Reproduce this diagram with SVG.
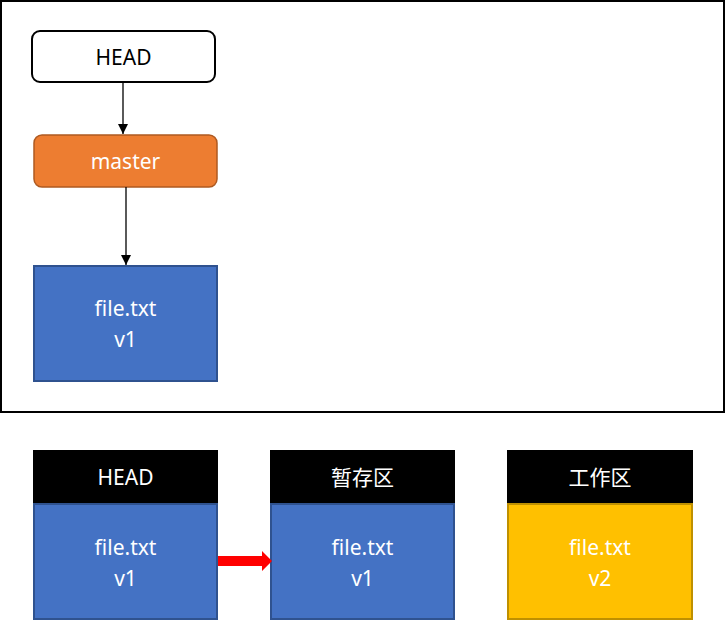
<svg xmlns="http://www.w3.org/2000/svg" width="726" height="620" viewBox="0 0 726 620">
<defs>
<style>
text{font-family:"Noto Sans","Noto Sans CJK SC",sans-serif;font-size:21px;text-anchor:middle;dominant-baseline:central}
.w{fill:#fff}
.k{fill:#000}
.blue{fill:#4472C4;stroke:#2F528F;stroke-width:2}
.yel{fill:#FFC000;stroke:#BF9000;stroke-width:2}
.hdr{fill:#000}
.conn{stroke:#000;stroke-width:1.3;fill:none}
</style>
<marker id="ah" viewBox="0 0 10 10" refX="10" refY="5" markerWidth="10" markerHeight="10" markerUnits="userSpaceOnUse" orient="auto">
<path d="M0,0 L10,5 L0,10 Z" fill="#000"/>
</marker>
</defs>
<rect x="1" y="1" width="723" height="411" fill="#fff" stroke="#000" stroke-width="2"/>
<g id="head-ref">
<rect x="32" y="31" width="183" height="51" rx="8" fill="#fff" stroke="#000" stroke-width="2"/>
<text x="123.5" y="57" class="k">HEAD</text>
</g>
<g id="master">
<rect x="34" y="135" width="183" height="52" rx="8" fill="#ED7D31" stroke="#AE5A21" stroke-width="1.5"/>
<text x="125.5" y="161" class="w">master</text>
</g>
<g id="commit">
<rect x="34" y="266" width="183" height="115" class="blue"/>
<text x="125.5" y="308" class="w">file.txt</text>
<text x="125.5" y="339" class="w">v1</text>
</g>
<g id="head-area">
<rect x="33" y="450" width="185" height="53" class="hdr"/>
<text x="125.5" y="477" class="w">HEAD</text>
<rect x="34" y="504" width="183" height="115" class="blue"/>
<text x="125.5" y="547" class="w">file.txt</text>
<text x="125.5" y="578" class="w">v1</text>
</g>
<g id="stage">
<rect x="270" y="450" width="185" height="53" class="hdr"/>
<text x="362.5" y="477" class="w">暂存区</text>
<rect x="271" y="504" width="183" height="115" class="blue"/>
<text x="362.5" y="547" class="w">file.txt</text>
<text x="362.5" y="578" class="w">v1</text>
</g>
<g id="work">
<rect x="507" y="450" width="186" height="53" class="hdr"/>
<text x="600" y="477" class="w">工作区</text>
<rect x="508" y="504" width="184" height="115" class="yel"/>
<text x="600" y="547" class="w">file.txt</text>
<text x="600" y="578" class="w">v2</text>
</g>
<g id="connectors">
<line x1="123" y1="82" x2="123" y2="134" class="conn" marker-end="url(#ah)"/>
<line x1="126" y1="187" x2="126" y2="265" class="conn" marker-end="url(#ah)"/>
<path d="M218,556 L262,556 L262,551 L272,561 L262,571 L262,566 L218,566 Z" fill="#FF0000"/>
</g>
</svg>
